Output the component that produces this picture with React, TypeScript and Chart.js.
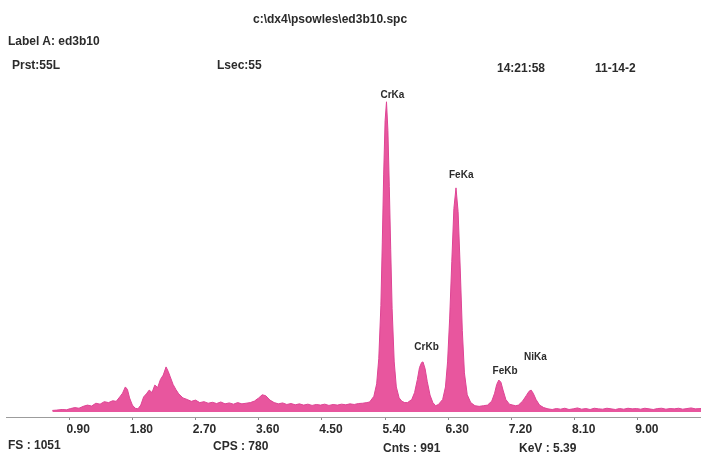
import React, { useEffect, useRef } from "react";
import { Chart, registerables } from "chart.js";

Chart.register(...registerables);

// ---------------- data ----------------
const fileTitle = "c:\\dx4\\psowles\\ed3b10.spc";
const labelLine = "Label A: ed3b10";
const presetText = "Prst:55L";
const lsecText = "Lsec:55";
const timeText = "14:21:58";
const dateText = "11-14-2";
const fsText = "FS : 1051";
const cpsText = "CPS : 780";
const cntsText = "Cnts : 991";
const kevText = "KeV : 5.39";

const fullScaleCounts = 1051;

const lowKeV = [0.66, 0.72, 0.8, 0.86, 0.92, 0.98, 1.04, 1.1, 1.16, 1.22, 1.28, 1.34, 1.4, 1.46, 1.52, 1.57, 1.62, 1.66, 1.7, 1.73, 1.76, 1.8, 1.84, 1.88, 1.92, 1.96, 2.0, 2.04, 2.08, 2.12, 2.16, 2.2, 2.24, 2.28, 2.31, 2.34, 2.38, 2.42, 2.46, 2.52, 2.58, 2.64, 2.7, 2.76, 2.82, 2.88, 2.94, 3.0, 3.06, 3.12, 3.18, 3.24, 3.3, 3.36, 3.42, 3.48, 3.54, 3.6, 3.65, 3.7, 3.76, 3.82, 3.88, 3.94, 4.0, 4.06, 4.12, 4.18, 4.24, 4.3, 4.36, 4.42, 4.48, 4.54, 4.6, 4.66, 4.72, 4.78, 4.84, 4.9, 4.96, 5.02, 5.08, 5.14];
const lowCounts = [5, 6, 8, 7, 11, 14, 12, 18, 22, 19, 28, 25, 33, 30, 36, 34, 48, 60, 80, 72, 45, 22, 12, 10, 22, 48, 58, 70, 62, 86, 78, 104, 118, 144, 130, 112, 88, 72, 58, 45, 40, 34, 38, 30, 33, 28, 31, 27, 32, 26, 29, 25, 30, 26, 28, 30, 35, 45, 55, 52, 38, 30, 26, 29, 24, 27, 23, 26, 22, 25, 21, 24, 22, 25, 21, 24, 22, 25, 23, 26, 24, 27, 28, 30];

const crKeV = [5.18, 5.24, 5.28, 5.31, 5.34, 5.36, 5.38, 5.4, 5.42, 5.44, 5.46, 5.48, 5.5, 5.53, 5.56, 5.6, 5.64, 5.68, 5.72, 5.78, 5.82, 5.86, 5.89, 5.92, 5.94, 5.97, 6.0, 6.04, 6.08, 6.12];
const crCounts = [32, 50, 90, 170, 340, 540, 760, 930, 991, 900, 720, 520, 330, 160, 80, 45, 34, 30, 30, 40, 62, 104, 142, 158, 160, 138, 98, 54, 30, 20];

const feNiKeV = [6.16, 6.22, 6.26, 6.29, 6.32, 6.35, 6.38, 6.41, 6.44, 6.47, 6.5, 6.53, 6.57, 6.62, 6.68, 6.74, 6.8, 6.86, 6.92, 6.96, 6.99, 7.02, 7.05, 7.08, 7.12, 7.17, 7.22, 7.26, 7.3, 7.36, 7.41, 7.45, 7.48, 7.51, 7.55, 7.6, 7.66];
const feNiCounts = [24, 40, 80, 160, 300, 480, 650, 716, 640, 460, 260, 125, 55, 30, 20, 18, 20, 22, 35, 60, 88, 102, 95, 70, 40, 25, 22, 20, 22, 35, 52, 66, 70, 60, 40, 22, 14];

const tailKeV = [7.72, 7.78, 7.84, 7.9, 7.96, 8.02, 8.08, 8.14, 8.2, 8.26, 8.32, 8.38, 8.44, 8.5, 8.56, 8.62, 8.68, 8.74, 8.8, 8.86, 8.92, 8.98, 9.04, 9.1, 9.16, 9.22, 9.28, 9.34, 9.4, 9.46, 9.52, 9.58, 9.64, 9.7, 9.76, 9.82, 9.9];
const tailCounts = [10, 8, 11, 9, 12, 8, 10, 13, 9, 11, 8, 12, 10, 9, 12, 10, 8, 11, 9, 12, 10, 11, 9, 12, 10, 8, 11, 12, 9, 11, 10, 12, 9, 11, 13, 10, 11];

const tickValuesKeV = [0.9, 1.8, 2.7, 3.6, 4.5, 5.4, 6.3, 7.2, 8.1, 9.0];
const tickLabels = ["0.90", "1.80", "2.70", "3.60", "4.50", "5.40", "6.30", "7.20", "8.10", "9.00"];

const peakNames = ["CrKa", "CrKb", "FeKa", "FeKb", "NiKa"];
const peakKeV = [5.42, 5.93, 6.41, 7.03, 7.48];
const peakCounts = [991, 160, 716, 102, 70];

// ---------------- layout / style ----------------
const W = 701;
const H = 455;
const PINK_FILL = "rgb(232, 86, 158)";
const PINK_LINE = "rgb(222, 68, 148)";
const TEXT_COLOR = "#2b2b2b";
const FONT = "'Liberation Sans', Arial, sans-serif";
const peakLabelDx = [-6, -8, -7, -7, -7];
const peakLabelLift = [7, 15, 13, 9, 33];

const overlayTexts = [
  { t: fileTitle, x: 253, y: 19 },
  { t: labelLine, x: 8, y: 41 },
  { t: presetText, x: 12, y: 65 },
  { t: lsecText, x: 217, y: 65 },
  { t: timeText, x: 497, y: 68 },
  { t: dateText, x: 595, y: 68 },
  { t: fsText, x: 8, y: 445 },
  { t: cpsText, x: 213, y: 446 },
  { t: cntsText, x: 383, y: 448 },
  { t: kevText, x: 519, y: 448 },
];

export default function App() {
  const canvasRef = useRef<HTMLCanvasElement | null>(null);

  useEffect(() => {
    const canvas = canvasRef.current;
    if (!canvas) return;
    const energies = [...lowKeV, ...crKeV, ...feNiKeV, ...tailKeV];
    const counts = [...lowCounts, ...crCounts, ...feNiCounts, ...tailCounts];
    const points = energies.map((e, i) => ({ x: e, y: counts[i] }));

    const peakLabelPlugin = {
      id: "peakLabels",
      afterDatasetsDraw(chart: any) {
        const { ctx, scales } = chart;
        ctx.save();
        ctx.font = `bold 10px ${FONT}`;
        ctx.fillStyle = TEXT_COLOR;
        ctx.textAlign = "left";
        ctx.textBaseline = "middle";
        peakNames.forEach((name, i) => {
          const px = scales.x.getPixelForValue(peakKeV[i]) + peakLabelDx[i];
          const py = scales.y.getPixelForValue(peakCounts[i]) - peakLabelLift[i];
          ctx.fillText(name, px, py);
        });
        ctx.restore();
      },
    };

    const chart = new Chart(canvas, {
      type: "line",
      data: {
        datasets: [
          {
            data: points,
            borderColor: PINK_LINE,
            backgroundColor: PINK_FILL,
            borderWidth: 1,
            pointRadius: 0,
            tension: 0,
            fill: "origin",
          },
        ],
      },
      options: {
        animation: false,
        responsive: false,
        maintainAspectRatio: false,
        layout: { padding: { top: 83, left: 6, right: 0, bottom: 0 } },
        plugins: {
          legend: { display: false },
          tooltip: { enabled: false },
        },
        scales: {
          x: {
            type: "linear",
            min: 0,
            max: 9.9,
            afterBuildTicks: (scale: any) => {
              scale.ticks = tickValuesKeV.map((v) => ({ value: v }));
            },
            afterFit: (scale: any) => {
              scale.height = 38;
            },
            border: { display: true, color: "#9c9c9c", width: 1 },
            grid: {
              drawOnChartArea: false,
              drawTicks: true,
              tickLength: 3,
              color: "#8a8a8a",
            },
            ticks: {
              autoSkip: false,
              maxRotation: 0,
              padding: 2,
              labelOffset: 9,
              color: TEXT_COLOR,
              font: { family: FONT, size: 12, weight: "bold" },
              callback: (_v: any, i: number) => tickLabels[i],
            },
          },
          y: {
            display: false,
            min: -16,
            max: fullScaleCounts,
          },
        },
      },
      plugins: [peakLabelPlugin],
    } as any);

    return () => chart.destroy();
  }, []);

  return (
    <div
      style={{
        position: "fixed",
        left: 0,
        top: 0,
        width: W,
        height: H,
        background: "#ffffff",
        overflow: "hidden",
      }}
    >
      <canvas ref={canvasRef} width={W} height={H} style={{ display: "block", width: W, height: H }} />
      {overlayTexts.map((o, i) => (
        <div
          key={i}
          style={{
            position: "absolute",
            left: o.x,
            top: o.y - 7,
            fontFamily: FONT,
            fontWeight: "bold",
            fontSize: 12,
            lineHeight: "14px",
            color: TEXT_COLOR,
            whiteSpace: "nowrap",
          }}
        >
          {o.t}
        </div>
      ))}
    </div>
  );
}
